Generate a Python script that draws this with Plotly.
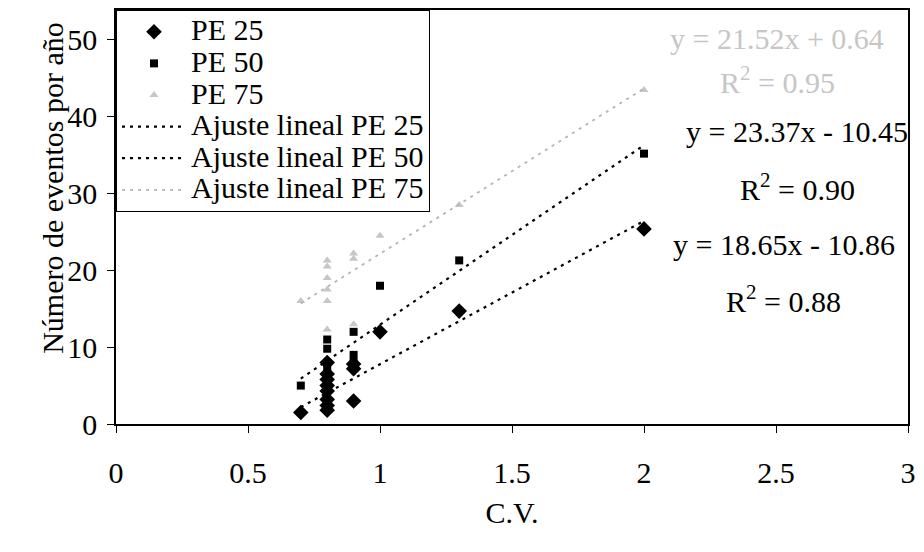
import numpy as np
import plotly.graph_objects as go

# Coeficiente de variación (C.V.) and events per year for each PE level
cv_25 = [0.7, 0.8, 0.8, 0.8, 0.8, 0.8, 0.8, 0.8, 0.8, 0.9, 0.9, 0.9, 1.0, 1.3, 2.0]
pe_25 = [1.5, 1.8, 2.4, 3.2, 4.3, 5.0, 5.8, 6.5, 8.0, 3.0, 7.2, 7.8, 12.0, 14.7, 25.4]

cv_50 = [0.7, 0.8, 0.8, 0.8, 0.8, 0.8, 0.9, 0.9, 0.9, 1.0, 1.3, 2.0]
pe_50 = [5.0, 5.5, 6.5, 7.3, 9.8, 11.0, 8.0, 9.0, 12.0, 18.0, 21.3, 35.2]

cv_75 = [0.7, 0.8, 0.8, 0.8, 0.8, 0.8, 0.8, 0.9, 0.9, 0.9, 1.0, 1.3, 2.0]
pe_75 = [16.0, 12.3, 16.0, 17.5, 19.0, 20.5, 21.3, 13.0, 21.5, 22.2, 24.5, 28.5, 43.5]

# Linear fits: slope, intercept, R²
fit_25 = (18.65, -10.86, 0.88)
fit_50 = (23.37, -10.45, 0.90)
fit_75 = (21.52, 0.64, 0.95)
fit_span = [0.7, 2.0]

x_ticks = [0, 0.5, 1, 1.5, 2, 2.5, 3]
y_ticks = [0, 10, 20, 30, 40, 50]

FONT = "Liberation Serif, Times New Roman, serif"
SIZE = 30
LIGHT = "#c6c6c6"


def big(s):
    # legend rows stay tight while the label text is drawn at full size
    return f'<span style="font-size:{SIZE}px">{s}</span>'


fig = go.Figure()

fig.add_trace(go.Scatter(x=cv_25, y=pe_25, mode="markers", name=big("PE 25"),
                         marker=dict(symbol="diamond", size=12, color="black")))
fig.add_trace(go.Scatter(x=cv_50, y=pe_50, mode="markers", name=big("PE 50"),
                         marker=dict(symbol="square", size=8, color="black")))
fig.add_trace(go.Scatter(x=cv_75, y=pe_75, mode="markers", name=big("PE 75"),
                         marker=dict(symbol="triangle-up", size=8, color=LIGHT)))

fx = np.array(fit_span)
for (m, b, _), name, col, w in [
    (fit_25, "Ajuste lineal PE 25", "black", 2.2),
    (fit_50, "Ajuste lineal PE 50", "black", 2.2),
    (fit_75, "Ajuste lineal PE 75", "#b4b4b4", 1.8),
]:
    fig.add_trace(go.Scatter(x=fx, y=m * fx + b, mode="lines", name=big(name),
                             line=dict(color=col, width=w, dash="3px,5px")))


def fmt_eq(m, b):
    sign = "+" if b >= 0 else "-"
    return f"y = {m:.2f}x {sign} {abs(b):.2f}"


# equation and R² labels beside each fit line
labels = [
    (fit_75, 2.505, 50.2, 44.8, LIGHT),
    (fit_50, 2.58, 38.1, 30.9, "black"),
    (fit_25, 2.53, 23.4, 16.3, "black"),
]
for (m, b, r2), lx, ey, ry, col in labels:
    fig.add_annotation(x=lx, y=ey, text=fmt_eq(m, b), showarrow=False,
                       font=dict(family=FONT, size=SIZE, color=col))
    fig.add_annotation(x=lx, y=ry, text=f"R<sup>2</sup> = {r2:.2f}", showarrow=False,
                       font=dict(family=FONT, size=SIZE, color=col))

# y-axis title
fig.add_annotation(xref="paper", yref="paper", x=-0.081, y=0.57,
                   xanchor="center", yanchor="middle",
                   text="Número de eventos por año", textangle=-90,
                   showarrow=False, font=dict(family=FONT, size=SIZE))

fig.update_layout(
    width=924, height=552,
    margin=dict(l=116, r=16, t=8, b=128),
    paper_bgcolor="white", plot_bgcolor="white",
    font=dict(family=FONT, size=SIZE, color="black"),
    showlegend=True,
    legend=dict(x=0, y=1.0, xanchor="left", yanchor="top",
                bgcolor="white", bordercolor="black", borderwidth=1,
                font=dict(family=FONT, size=22), tracegroupgap=0,
                itemwidth=64),
    xaxis=dict(range=[0, 3], tickvals=x_ticks, ticktext=[str(t) for t in x_ticks],
               showgrid=False, zeroline=False, showline=True, linecolor="black",
               linewidth=1.5, mirror=True, ticks="outside", ticklen=7,
               tickcolor="black", tickfont=dict(size=SIZE), ticklabelstandoff=14,
               title=dict(text="C.V.", font=dict(size=SIZE), standoff=14)),
    yaxis=dict(range=[0, 53.9], tickvals=y_ticks, showgrid=False, zeroline=False,
               showline=True, linecolor="black", linewidth=1.5, mirror=True,
               ticks="outside", ticklen=7, tickcolor="black",
               tickfont=dict(size=SIZE), ticklabelstandoff=4),
)

fig.write_html("out.html")
